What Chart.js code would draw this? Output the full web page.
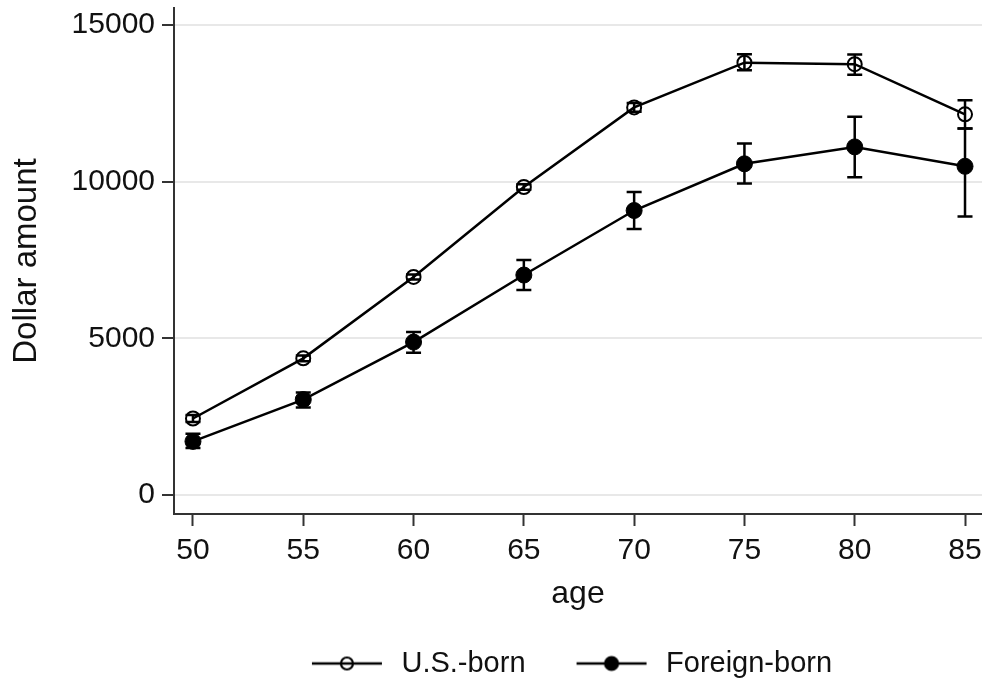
<!DOCTYPE html>
<html>
<head>
<meta charset="utf-8">
<script src="https://cdn.jsdelivr.net/npm/chart.js@4.4.0/dist/chart.umd.min.js"></script>
<style>
  html, body { margin: 0; padding: 0; background: #fff; }
  #wrap { width: 982px; height: 682px; position: relative; }
</style>
</head>
<body>
<div id="wrap"><canvas id="chart"></canvas></div>
<script>
// data
const ages = [50, 55, 60, 65, 70, 75, 80, 85];
const usBorn = [2440, 4360, 6960, 9830, 12370, 13800, 13750, 12150];
const usLow = [2330, 4270, 6880, 9740, 12230, 13560, 13410, 11700];
const usHigh = [2550, 4450, 7040, 9920, 12510, 14070, 14060, 12600];
const foreignBorn = [1710, 3045, 4880, 7020, 9080, 10570, 11110, 10490];
const fbLow = [1500, 2790, 4540, 6540, 8490, 9940, 10140, 8890];
const fbHigh = [1950, 3270, 5200, 7500, 9670, 11220, 12070, 11700];
const xTicks = [50, 55, 60, 65, 70, 75, 80, 85];
const yTicks = [0, 5000, 10000, 15000];

const FONT = '"Liberation Sans", Arial, sans-serif';
const INK = '#111';
const AXIS = '#333';

// legend icon: short line with the marker in the middle (12px blank on the left as spacing)
function legendIcon(filled) {
  const cv = document.createElement('canvas');
  cv.width = 87; cv.height = 18;
  const g = cv.getContext('2d');
  g.strokeStyle = '#000';
  g.lineWidth = 2.5;
  g.beginPath(); g.moveTo(12, 9); g.lineTo(82, 9); g.stroke();
  g.beginPath(); g.arc(47, 9, filled ? 6.5 : 6, 0, Math.PI * 2);
  if (filled) { g.fillStyle = '#000'; g.fill(); }
  g.lineWidth = 2.2;
  g.stroke();
  return cv;
}

// error bars drawn under the markers, positioned by the chart scales
const errorBars = {
  id: 'errorBars',
  beforeDatasetsDraw(chart) {
    const { ctx, scales: { x, y } } = chart;
    ctx.save();
    ctx.strokeStyle = '#000';
    ctx.lineWidth = 2.5;
    [[usLow, usHigh], [fbLow, fbHigh]].forEach(([lo, hi]) => {
      ages.forEach((a, i) => {
        const px = x.getPixelForValue(a);
        const y1 = y.getPixelForValue(lo[i]);
        const y2 = y.getPixelForValue(hi[i]);
        ctx.beginPath();
        ctx.moveTo(px, y1); ctx.lineTo(px, y2);
        ctx.moveTo(px - 7.5, y1); ctx.lineTo(px + 7.5, y1);
        ctx.moveTo(px - 7.5, y2); ctx.lineTo(px + 7.5, y2);
        ctx.stroke();
      });
    });
    ctx.restore();
  }
};

// nudge the legend a little left so it sits where the original one does
const legendNudge = {
  id: 'legendNudge',
  afterLayout(chart) {
    if (chart.legend) { chart.legend.left -= 12; chart.legend.right -= 12; }
  }
};

const ctx = document.getElementById('chart').getContext('2d');
new Chart(ctx, {
  type: 'line',
  data: {
    datasets: [
      {
        label: 'U.S.-born',
        data: ages.map((a, i) => ({ x: a, y: usBorn[i] })),
        borderColor: '#000',
        borderWidth: 2.5,
        pointRadius: 7,
        pointBorderWidth: 2,
        pointBorderColor: '#000',
        pointBackgroundColor: 'rgba(0,0,0,0)',
        tension: 0,
        clip: false
      },
      {
        label: 'Foreign-born',
        data: ages.map((a, i) => ({ x: a, y: foreignBorn[i] })),
        borderColor: '#000',
        borderWidth: 2.5,
        pointRadius: 8,
        pointBorderWidth: 1,
        pointBorderColor: '#000',
        pointBackgroundColor: '#000',
        tension: 0,
        clip: false
      }
    ]
  },
  options: {
    responsive: true,
    maintainAspectRatio: false,
    animation: false,
    layout: { autoPadding: false, padding: { top: 8, right: 0, left: 0, bottom: -6 } },
    plugins: {
      tooltip: { enabled: false },
      legend: {
        position: 'bottom',
        fullSize: false,
        labels: {
          usePointStyle: true,
          pointStyleWidth: 87,
          boxHeight: 16,
          padding: 39,
          color: INK,
          font: { family: FONT, size: 29 },
          generateLabels(chart) {
            const items = Chart.defaults.plugins.legend.labels.generateLabels(chart);
            items.forEach((it, i) => { it.pointStyle = legendIcon(i === 1); });
            return items;
          }
        }
      }
    },
    scales: {
      x: {
        type: 'linear',
        min: 49.14,
        max: 85.77,
        afterBuildTicks(s) { s.ticks = xTicks.map(v => ({ value: v })); },
        afterFit(s) { s.height = 96; s.paddingLeft = 0; s.paddingRight = 0; },
        grid: { drawOnChartArea: false, drawTicks: true, tickLength: 12, tickColor: AXIS, tickWidth: 2 },
        border: { color: AXIS, width: 2 },
        ticks: { color: INK, padding: 7, font: { family: FONT, size: 30 } },
        title: { display: true, text: 'age', color: INK, padding: { top: 4, bottom: -3 }, font: { family: FONT, size: 32 } }
      },
      y: {
        min: -608,
        max: 15544,
        afterBuildTicks(s) { s.ticks = yTicks.map(v => ({ value: v })); },
        afterFit(s) { s.width = 174; s.paddingTop = 0; s.paddingBottom = 0; },
        grid: { color: '#e8e8e8', lineWidth: 2, drawTicks: true, tickLength: 12, tickColor: AXIS, tickWidth: 2 },
        border: { color: AXIS, width: 2 },
        ticks: { color: INK, padding: 7, font: { family: FONT, size: 30 }, callback: v => String(v) },
        title: { display: true, text: 'Dollar amount', color: INK, padding: { top: 7, bottom: 0 }, font: { family: FONT, size: 33 } }
      }
    }
  },
  plugins: [errorBars, legendNudge]
});
</script>
</body>
</html>
